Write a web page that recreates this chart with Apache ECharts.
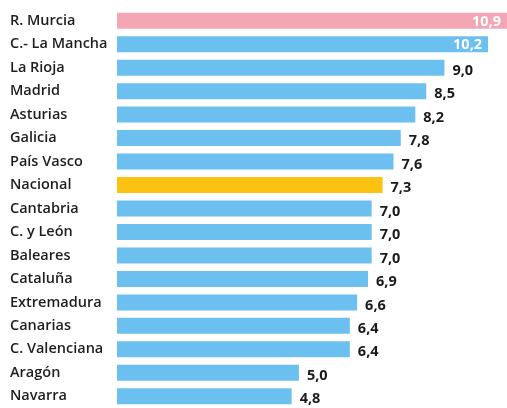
<!DOCTYPE html>
<html>
<head>
  <meta charset="utf-8">
  <title>Tasa por comunidad</title>
  <script src="https://cdn.jsdelivr.net/npm/echarts@6/dist/echarts.min.js"></script>
  <style>
    html, body { margin: 0; padding: 0; background: #fff; }
    #chart { width: 507px; height: 408px; }
  </style>
</head>
<body>
  <div id="chart"></div>
  <script>
  // datos
  var regions = ['R. Murcia', 'C.- La Mancha', 'La Rioja', 'Madrid', 'Asturias', 'Galicia',
    'País Vasco', 'Nacional', 'Cantabria', 'C. y León', 'Baleares', 'Cataluña',
    'Extremadura', 'Canarias', 'C. Valenciana', 'Aragón', 'Navarra'];
  var values = [10.9, 10.2, 9.0, 8.5, 8.2, 7.8, 7.6, 7.3, 7.0, 7.0, 7.0, 6.9, 6.6, 6.4, 6.4, 5.0, 4.8];

  var BLUE = '#6cc0ef', PINK = '#f5a6b4', YELLOW = '#fcc212';

  var chart = echarts.init(document.getElementById('chart'));

  var seriesData = values.map(function (v, i) {
    var item = { value: v, itemStyle: { color: BLUE } };
    if (regions[i] == 'R. Murcia') item.itemStyle.color = PINK;
    if (regions[i] == 'Nacional') item.itemStyle.color = YELLOW;
    // las dos primeras llevan la cifra dentro, en blanco
    if (i < 2) item.label = { position: 'insideRight', color: '#fff', offset: [2, 1] };
    return item;
  });

  chart.setOption({
    animation: false,
    grid: { left: 117, top: 9, height: 402, right: 0 },
    xAxis: {
      type: 'value', min: 0, max: 10.72,
      show: false
    },
    yAxis: {
      type: 'category',
      data: regions,
      inverse: true,
      axisLine: { show: false },
      axisTick: { show: false },
      axisLabel: {
        align: 'left',
        margin: 107,
        fontFamily: 'Open Sans',
        fontSize: 14.5,
        fontWeight: 600,
        color: '#1e1e1e'
      }
    },
    series: [{
      type: 'bar',
      data: seriesData,
      barWidth: 16,
      label: {
        show: true,
        position: 'right',
        distance: 8,
        offset: [0, 3],
        fontFamily: 'Open Sans',
        fontSize: 14.5,
        fontWeight: 'bold',
        color: '#1a1a1a',
        formatter: function (p) { return p.value.toFixed(1).replace('.', ','); }
      }
    }]
  });
  </script>
</body>
</html>
